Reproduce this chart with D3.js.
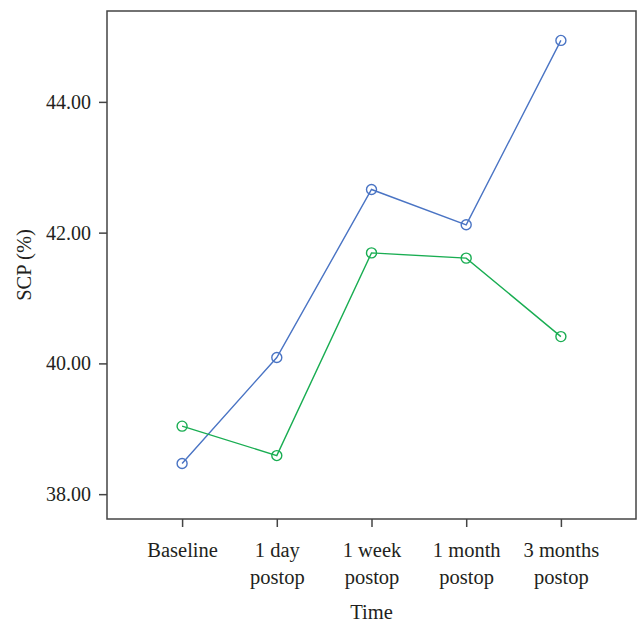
<!DOCTYPE html>
<html>
<head>
<meta charset="utf-8">
<script src="https://cdn.jsdelivr.net/npm/d3@7"></script>
<style>
  body { margin: 0; background: #fff; }
  svg text { font-family: "Liberation Serif", "DejaVu Serif", serif; fill: #231f20; }
</style>
</head>
<body>
<div id="chart"></div>
<script>
var timepoints = ["Baseline", "1 day postop", "1 week postop", "1 month postop", "3 months postop"];
var seriesBlue = [38.47, 40.09, 42.66, 42.12, 44.94];
var seriesGreen = [39.04, 38.59, 41.69, 41.61, 40.41];
var yTicks = [38, 40, 42, 44];

var width = 637, height = 623;
var margin = {top: 11, right: 1, bottom: 104, left: 107};
var innerW = width - margin.left - margin.right;
var innerH = height - margin.top - margin.bottom;

var svg = d3.select("#chart").append("svg")
    .attr("width", width)
    .attr("height", height);

var g = svg.append("g")
    .attr("transform", "translate(" + margin.left + "," + margin.top + ")");

var x = d3.scalePoint()
    .domain(timepoints)
    .range([0, innerW])
    .padding(0.793);

var y = d3.scaleLinear()
    .domain([37.62, 45.39])
    .range([innerH, 0]);

// frame
g.append("rect")
    .attr("x", 0).attr("y", 0)
    .attr("width", innerW).attr("height", innerH)
    .attr("fill", "none")
    .attr("stroke", "#444")
    .attr("stroke-width", 1.5);

var yAxis = g.append("g")
    .call(d3.axisLeft(y).tickValues(yTicks).tickSize(8).tickPadding(8).tickFormat(d3.format(".2f")));
yAxis.select(".domain").remove();
yAxis.selectAll("line").attr("stroke", "#444").attr("stroke-width", 1.5);
yAxis.selectAll("text").style("font-size", "20px").attr("fill", "#231f20")
    .style("font-family", "Liberation Serif, serif");

var xAxis = g.append("g")
    .attr("transform", "translate(0," + innerH + ")")
    .call(d3.axisBottom(x).tickSize(8).tickFormat(""));
xAxis.select(".domain").remove();
xAxis.selectAll("line").attr("stroke", "#444").attr("stroke-width", 1.5);

// two-line x tick labels
xAxis.selectAll(".tick").each(function(d) {
    var words = d.split(" ");
    var lines = words.length > 2 ? [words[0] + " " + words[1], words.slice(2).join(" ")] : [d];
    var t = d3.select(this).append("text")
        .attr("text-anchor", "middle")
        .attr("fill", "#231f20")
        .style("font-size", "20.5px")
        .style("font-family", "Liberation Serif, serif");
    lines.forEach(function(l, i) {
        t.append("tspan").attr("x", 0).attr("y", 38 + i * 27).text(l);
    });
});

svg.append("text")
    .attr("x", margin.left + innerW / 2)
    .attr("y", 619)
    .attr("text-anchor", "middle")
    .style("font-size", "20.5px")
    .text("Time");

svg.append("text")
    .attr("transform", "translate(31," + (margin.top + innerH / 2) + ") rotate(-90)")
    .attr("text-anchor", "middle")
    .style("font-size", "20.5px")
    .text("SCP (%)");

var series = [
    {values: seriesBlue, color: "#4a74c4"},
    {values: seriesGreen, color: "#19ad52"}
];

var line = d3.line()
    .x(function(d, i) { return x(timepoints[i]); })
    .y(function(d) { return y(d); });

series.forEach(function(s) {
    g.append("path")
        .datum(s.values)
        .attr("d", line)
        .attr("fill", "none")
        .attr("stroke", s.color)
        .attr("stroke-width", 1.4);
    g.selectAll(null)
        .data(s.values)
        .enter()
        .append("circle")
        .attr("cx", function(d, i) { return x(timepoints[i]); })
        .attr("cy", function(d) { return y(d); })
        .attr("r", 5)
        .attr("fill", "none")
        .attr("stroke", s.color)
        .attr("stroke-width", 1.4);
});
</script>
</body>
</html>
